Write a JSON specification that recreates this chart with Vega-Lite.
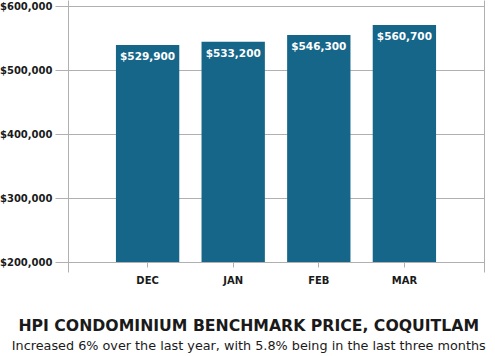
{
  "$schema": "https://vega.github.io/schema/vega-lite/v6.json",
  "width": 416,
  "height": 272,
  "autosize": {"type": "none"},
  "padding": {"left": 68, "top": 0, "right": 11, "bottom": 84},
  "background": "white",
  "config": {
    "view": {"stroke": null},
    "font": "DejaVu Sans"
  },
  "title": {
    "text": "HPI CONDOMINIUM BENCHMARK PRICE, COQUITLAM",
    "subtitle": "Increased 6% over the last year, with 5.8% being in the last three months",
    "orient": "bottom",
    "anchor": "middle",
    "frame": "bounds",
    "offset": 34,
    "dx": 7,
    "font": "DejaVu Sans",
    "fontSize": 15.7,
    "fontWeight": "bold",
    "color": "#1a1a1a",
    "subtitleFont": "DejaVu Sans",
    "subtitleFontSize": 12.8,
    "subtitleColor": "#1a1a1a",
    "subtitlePadding": 5
  },
  "data": {
    "values": [
      {"month": "DEC", "value": 539000, "label": "$529,900"},
      {"month": "JAN", "value": 544000, "label": "$533,200"},
      {"month": "FEB", "value": 554700, "label": "$546,300"},
      {"month": "MAR", "value": 570300, "label": "$560,700"}
    ]
  },
  "encoding": {
    "x": {
      "field": "month",
      "type": "nominal",
      "sort": null,
      "scale": {"paddingInner": 0.26, "paddingOuter": 0.56},
      "axis": {
        "title": null,
        "domain": false,
        "offset": -10,
        "tickSize": 5,
        "tickColor": "#b0b0b0",
        "labelAngle": 0,
        "labelFont": "DejaVu Sans",
        "labelFontWeight": "bold",
        "labelFontSize": 10,
        "labelColor": "#1a1a1a",
        "labelPadding": 8
      }
    },
    "y": {
      "field": "value",
      "type": "quantitative",
      "scale": {"domain": [184375, 609375], "nice": false, "zero": false}
    }
  },
  "layer": [
    {
      "mark": {"type": "bar", "color": "#16668a"},
      "encoding": {
        "y": {
          "field": "value",
          "type": "quantitative",
          "axis": {
            "title": null,
            "values": [200000, 300000, 400000, 500000, 600000],
            "format": "$,.0f",
            "grid": true,
            "gridColor": "#b0b0b0",
            "domain": true,
            "domainColor": "#b0b0b0",
            "tickColor": "#b0b0b0",
            "tickSize": 13,
            "labelFont": "DejaVu Sans",
            "labelFontWeight": "bold",
            "labelFontSize": 10,
            "labelColor": "#1a1a1a",
            "labelPadding": 3
          }
        },
        "y2": {"datum": 200000}
      }
    },
    {
      "mark": {"type": "text", "color": "white", "fontWeight": "bold", "fontSize": 10.5, "font": "DejaVu Sans", "baseline": "top", "dy": 7},
      "encoding": {
        "text": {"field": "label"},
        "y": {
          "field": "value",
          "type": "quantitative",
          "axis": {
            "orient": "right",
            "title": null,
            "labels": false,
            "ticks": false,
            "grid": false,
            "domain": true,
            "domainColor": "#b0b0b0"
          }
        }
      }
    }
  ],
  "resolve": {"axis": {"y": "independent"}}
}
